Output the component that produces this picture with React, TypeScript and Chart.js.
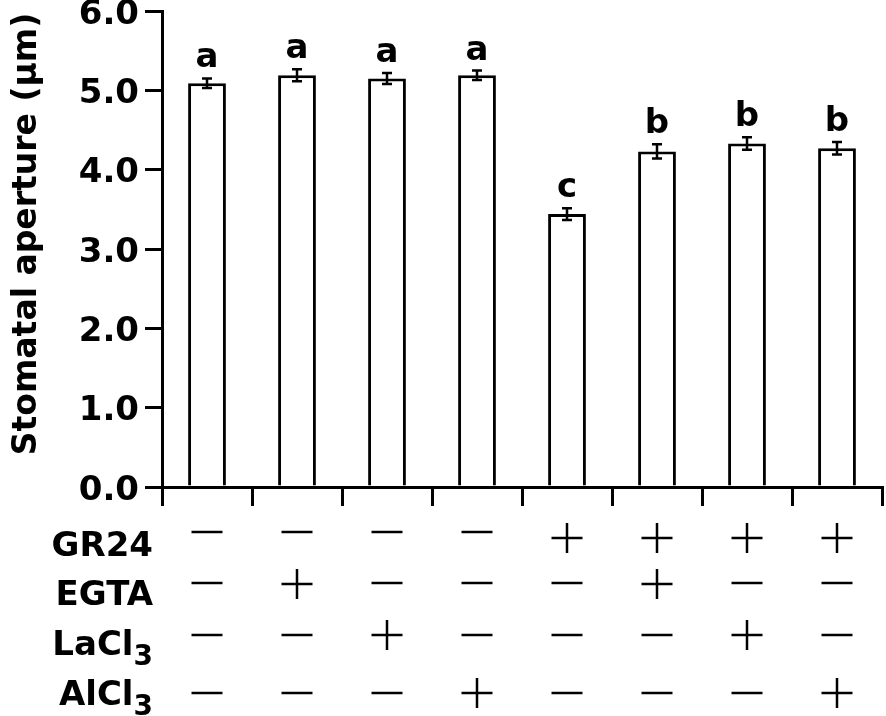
import React, { useEffect, useRef } from "react";
import { Chart, registerables } from "chart.js";

Chart.register(...registerables);

const categories = ["1", "2", "3", "4", "5", "6", "7", "8"];
const means = [5.09, 5.19, 5.15, 5.19, 3.44, 4.23, 4.33, 4.27];
const errors = [0.06, 0.075, 0.07, 0.06, 0.075, 0.09, 0.08, 0.08];
const letters = ["a", "a", "a", "a", "c", "b", "b", "b"];
const yTicks = [0, 1, 2, 3, 4, 5, 6];
const yTitle = "Stomatal aperture (μm)";

const rowNames = ["GR24", "EGTA", "LaCl", "AlCl"];
const rowSubs = ["", "", "3", "3"];
const gr24 = [0, 0, 0, 0, 1, 1, 1, 1];
const egta = [0, 1, 0, 0, 0, 1, 0, 0];
const lacl3 = [0, 0, 1, 0, 0, 0, 1, 0];
const alcl3 = [0, 0, 0, 1, 0, 0, 0, 1];
const rows = [gr24, egta, lacl3, alcl3];

const FONT = "DejaVu Sans";

const annotPlugin = {
  id: "annot",
  afterDatasetsDraw(chart: any) {
    const { ctx, scales } = chart;
    const x = scales.x;
    const y = scales.y;
    ctx.save();
    ctx.strokeStyle = "#000";
    ctx.fillStyle = "#000";
    ctx.lineWidth = 2.5;
    for (let i = 0; i < means.length; i++) {
      const px = x.getPixelForValue(i);
      const top = y.getPixelForValue(means[i] + errors[i]);
      const bot = y.getPixelForValue(means[i] - errors[i]);
      ctx.beginPath();
      ctx.moveTo(px, top);
      ctx.lineTo(px, bot);
      ctx.moveTo(px - 5, top);
      ctx.lineTo(px + 5, top);
      ctx.moveTo(px - 5, bot);
      ctx.lineTo(px + 5, bot);
      ctx.stroke();
      ctx.font = `bold 34px "${FONT}"`;
      ctx.textAlign = "center";
      ctx.textBaseline = "alphabetic";
      ctx.fillText(letters[i], px, top - 11);
    }
    ctx.restore();
  },
  afterDraw(chart: any) {
    const { ctx, scales } = chart;
    const x = scales.x;
    ctx.save();
    ctx.fillStyle = "#000";
    ctx.strokeStyle = "#000";
    // y-axis title
    ctx.save();
    ctx.translate(36, 234);
    ctx.rotate(-Math.PI / 2);
    ctx.font = `bold 33px "${FONT}"`;
    ctx.textAlign = "center";
    ctx.textBaseline = "alphabetic";
    ctx.fillText(yTitle, 0, 0);
    ctx.restore();

    // treatment table
    const baselines = [556, 605, 655, 705];
    const minusY = [532, 583, 635, 693];
    const plusY = [538, 584, 635, 693];
    const rightX = 153;
    for (let r = 0; r < rows.length; r++) {
      ctx.font = `bold 34px "${FONT}"`;
      const mainW = ctx.measureText(rowNames[r]).width;
      let subW = 0;
      if (rowSubs[r]) {
        ctx.font = `bold 28px "${FONT}"`;
        subW = ctx.measureText(rowSubs[r]).width;
      }
      const startX = rightX - mainW - subW;
      ctx.textAlign = "left";
      ctx.textBaseline = "alphabetic";
      ctx.font = `bold 34px "${FONT}"`;
      ctx.fillText(rowNames[r], startX, baselines[r]);
      if (rowSubs[r]) {
        ctx.font = `bold 28px "${FONT}"`;
        ctx.fillText(rowSubs[r], startX + mainW, baselines[r] + 10);
      }
      ctx.lineWidth = 2.5;
      for (let i = 0; i < rows[r].length; i++) {
        const px = x.getPixelForValue(i);
        ctx.beginPath();
        if (rows[r][i]) {
          const cy = plusY[r];
          ctx.moveTo(px - 15.5, cy);
          ctx.lineTo(px + 15.5, cy);
          ctx.moveTo(px, cy - 15);
          ctx.lineTo(px, cy + 15);
        } else {
          const cy = minusY[r];
          ctx.moveTo(px - 15.5, cy);
          ctx.lineTo(px + 15.5, cy);
        }
        ctx.stroke();
      }
    }
    ctx.restore();
  },
};

export default function App() {
  const ref = useRef<HTMLCanvasElement>(null);
  useEffect(() => {
    if (!ref.current) return;
    const chart = new Chart(ref.current, {
      type: "bar",
      data: {
        labels: categories,
        datasets: [
          {
            data: means,
            backgroundColor: "#fff",
            borderColor: "#000",
            borderWidth: 3,
            borderSkipped: "start",
            barPercentage: 0.42,
            categoryPercentage: 1,
          },
        ],
      },
      options: {
        animation: false,
        responsive: false,
        devicePixelRatio: 1,
        layout: { padding: { top: 11, right: 4, left: 0, bottom: 0 } },
        plugins: { legend: { display: false }, tooltip: { enabled: false } },
        scales: {
          x: {
            type: "category",
            offset: true,
            grid: {
              display: true,
              drawOnChartArea: false,
              drawTicks: true,
              tickLength: 19,
              offset: true,
              color: "#000",
              lineWidth: 3,
            },
            border: { display: true, color: "#000", width: 3 },
            ticks: { display: false },
            afterFit(scale: any) {
              scale.height = 229;
            },
          },
          y: {
            min: 0,
            max: 6,
            afterBuildTicks(scale: any) {
              scale.ticks = yTicks.map((v) => ({ value: v }));
            },
            ticks: {
              stepSize: 1,
              callback: (v: any) => Number(v).toFixed(1),
              color: "#000",
              font: { family: FONT, weight: "bold", size: 34, lineHeight: 0.25 },
              padding: 6,
              labelOffset: 4,
            },
            grid: {
              drawOnChartArea: false,
              drawTicks: true,
              tickLength: 17,
              color: "#000",
              lineWidth: 3,
            },
            border: { display: true, color: "#000", width: 3 },
            afterFit(scale: any) {
              scale.width = 162;
            },
          },
        },
      },
      plugins: [annotPlugin],
    } as any);
    return () => chart.destroy();
  }, []);
  return (
    <div style={{ position: "fixed", left: 0, top: 0, width: 886, height: 716, background: "#fff" }}>
      <canvas ref={ref} width={886} height={716} style={{ display: "block" }} />
    </div>
  );
}
